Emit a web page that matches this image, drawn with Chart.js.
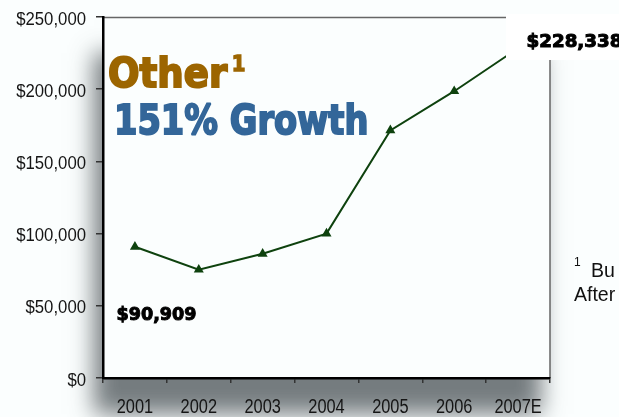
<!DOCTYPE html>
<html>
<head>
<meta charset="utf-8">
<script src="https://cdn.jsdelivr.net/npm/chart.js@4/dist/chart.umd.min.js"></script>
<style>
html,body{margin:0;padding:0;background:#fbfefe;}
#wrap{position:relative;width:619px;height:417px;overflow:hidden;}
canvas{display:block;}
</style>
</head>
<body>
<div id="wrap"><canvas id="c" width="619" height="417"></canvas></div>
<script>
const years = ['2001','2002','2003','2004','2005','2006','2007E'];
const revenue = [90909, 75000, 86000, 100000, 171500, 198600, 228338];
const yTicks = [0, 50000, 100000, 150000, 200000, 250000];
const titleLine1 = 'Other';
const titleSup = '1';
const titleLine2 = '151% Growth';
const startLabel = '$90,909';
const endLabel = '$228,338';
const footSup = '1';
const footLine1 = 'Bu';
const footLine2 = 'After';

const BG = '#fbfefe';
const fmt = v => '$' + v.toLocaleString('en-US');

function heavyText(ctx, text, x, y, targetW, stroke) {
  const w = ctx.measureText(text).width + stroke;
  ctx.save();
  ctx.translate(x + stroke / 2, y);
  ctx.scale(targetW / w, 1);
  ctx.lineJoin = 'miter';
  ctx.miterLimit = 2;
  ctx.lineWidth = stroke;
  ctx.strokeStyle = ctx.fillStyle;
  if (stroke > 0) ctx.strokeText(text, 0, 0);
  ctx.fillText(text, 0, 0);
  ctx.restore();
}

const decor = {
  id: 'decor',
  beforeDraw(chart) {
    const ctx = chart.ctx, a = chart.chartArea;
    ctx.save();
    ctx.fillStyle = BG;
    ctx.fillRect(0, 0, chart.width, chart.height);
    ctx.shadowColor = 'rgba(60,68,72,0.7)';
    ctx.shadowBlur = 22;
    ctx.shadowOffsetX = -9;
    ctx.shadowOffsetY = 36;
    ctx.fillStyle = BG;
    ctx.fillRect(a.left, a.top, a.right - a.left, a.bottom - a.top);
    ctx.restore();
    ctx.save();
    ctx.fillStyle = BG;
    ctx.fillRect(a.left, a.top, a.right - a.left, a.bottom - a.top);
    ctx.strokeStyle = '#666';
    ctx.lineWidth = 1.5;
    ctx.beginPath();
    ctx.moveTo(a.left, a.top + 0.5); ctx.lineTo(a.right, a.top + 0.5);
    ctx.moveTo(a.right, a.top); ctx.lineTo(a.right, a.bottom);
    ctx.stroke();
    ctx.restore();
  },
  afterDatasetsDraw(chart) {
    const ctx = chart.ctx;
    ctx.save();
    ctx.textBaseline = 'alphabetic';
    // titles
    ctx.fillStyle = '#9c6500';
    ctx.font = 'bold 41px "DejaVu Sans"';
    heavyText(ctx, titleLine1, 107, 87, 121, 2);
    ctx.font = 'bold 22px "DejaVu Sans"';
    heavyText(ctx, titleSup, 231, 71, 15, 1.5);
    ctx.fillStyle = '#336699';
    ctx.font = 'bold 41px "DejaVu Sans"';
    heavyText(ctx, titleLine2, 113, 134, 256, 2);
    // value labels
    ctx.fillStyle = '#000';
    ctx.font = 'bold 18px "DejaVu Sans"';
    heavyText(ctx, startLabel, 116, 320, 81, 1);
    ctx.fillStyle = '#ffffff';
    ctx.fillRect(506, 14, chart.width - 506, 46);
    ctx.fillStyle = '#000';
    ctx.font = 'bold 17px "DejaVu Sans"';
    heavyText(ctx, endLabel, 526, 47, 97, 1);
    // footnote
    ctx.fillStyle = '#111';
    ctx.font = '12px "Liberation Sans", Arial, sans-serif';
    ctx.fillText(footSup, 574, 266);
    ctx.font = '19.5px "Liberation Sans", Arial, sans-serif';
    ctx.fillText(footLine1, 591, 277);
    ctx.fillText(footLine2, 574, 301);
    ctx.restore();
  },
  afterDraw(chart) {
    const ctx = chart.ctx, xs = chart.scales.x, ys = chart.scales.y;
    ctx.save();
    ctx.fillStyle = '#151515';
    ctx.textBaseline = 'alphabetic';
    ctx.font = '19.5px "Liberation Sans", Arial, sans-serif';
    xs.ticks.forEach((t, i) => {
      const x = xs.getPixelForValue(i);
      ctx.save();
      ctx.translate(x, 413);
      ctx.scale(0.84, 1);
      ctx.textAlign = 'center';
      ctx.fillText(years[i], 0, 0);
      ctx.restore();
    });
    ctx.font = '18px "Liberation Sans", Arial, sans-serif';
    yTicks.forEach(v => {
      const y = ys.getPixelForValue(v);
      ctx.save();
      ctx.translate(86, y + 7.5);
      ctx.scale(0.93, 1);
      ctx.textAlign = 'right';
      ctx.fillText(fmt(v), 0, 0);
      ctx.restore();
    });
    ctx.restore();
  }
};

new Chart(document.getElementById('c'), {
  type: 'line',
  data: {
    labels: years,
    datasets: [{
      data: revenue,
      borderColor: '#0e420e',
      backgroundColor: '#0e420e',
      borderWidth: 2,
      pointStyle: 'triangle',
      pointRadius: 3.8,
      pointHoverRadius: 3.8,
      tension: 0,
      clip: false
    }]
  },
  options: {
    responsive: false,
    animation: false,
    devicePixelRatio: 1,
    layout: { padding: { left: 0, top: 17, right: 69, bottom: 0 } },
    plugins: { legend: { display: false }, tooltip: { enabled: false } },
    scales: {
      x: {
        offset: true,
        grid: { display: true, offset: true, drawOnChartArea: false, tickLength: 5, color: '#333', lineWidth: 1.5 },
        border: { display: true, color: '#000', width: 2.5 },
        ticks: { display: false },
        afterFit(s) { s.height = 39; }
      },
      y: {
        min: 0, max: 250000,
        afterBuildTicks(s) { s.ticks = yTicks.map(v => ({ value: v })); },
        grid: { display: true, drawOnChartArea: false, tickLength: 7, color: '#333', lineWidth: 1.5 },
        border: { display: true, color: '#000', width: 2.5 },
        ticks: { display: false },
        afterFit(s) { s.width = 103; }
      }
    }
  },
  plugins: [decor]
});
</script>
</body>
</html>
